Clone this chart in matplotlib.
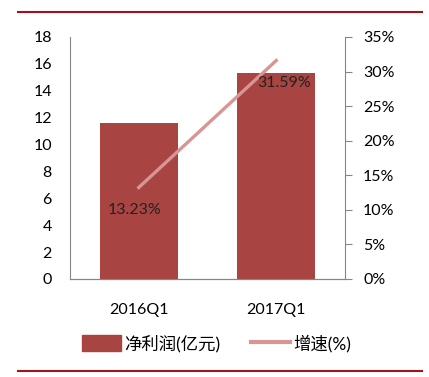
import matplotlib
matplotlib.use("Agg")
import matplotlib.pyplot as plt
from matplotlib.lines import Line2D
from matplotlib.ticker import FuncFormatter

plt.rcParams['font.family'] = ['Lato', 'Noto Sans CJK SC', 'DejaVu Sans']

# データ
categories = ["2016Q1", "2017Q1"]
profit = [11.6, 15.3]          # 净利润(亿元)
growth = [13.23, 31.59]        # 增速(%)
growth_labels = ["13.23%", "31.59%"]

bar_color = "#A84442"
line_color = "#D99594"
grid_color = "#868686"
fs = 11.5

fig = plt.figure(figsize=(4.29, 3.77), dpi=100)
ax = fig.add_axes([0.1632, 0.260, 0.641, 0.642])
ax2 = ax.twinx()

x = range(len(categories))
ax.bar(x, profit, width=0.565, color=bar_color, zorder=2)
ax.set_xlim(-0.5, 1.5)
ax.set_ylim(0, 18)
ax.set_yticks(range(0, 19, 2))
ax.set_xticks(list(x))
ax.set_xticklabels(categories, fontsize=fs)
ax.tick_params(axis="x", length=0, pad=17)
ax.tick_params(axis="y", length=0, pad=13, labelsize=fs)

ax2.plot(x, growth, color=line_color, linewidth=2.4, zorder=3)
ax2.set_ylim(0, 35)
ax2.set_yticks(range(0, 36, 5))
ax2.yaxis.set_major_formatter(FuncFormatter(lambda v, p: f"{int(v)}%"))
ax2.tick_params(axis="y", length=5, color=grid_color, labelsize=fs, pad=8)

# データラベル
ax2.annotate(growth_labels[0], (0, growth[0]), xytext=(-3, -16), textcoords="offset points",
             ha="center", va="center", fontsize=fs, color="#222222")
ax2.annotate(growth_labels[1], (1, growth[1]), xytext=(6, -16), textcoords="offset points",
             ha="center", va="center", fontsize=fs, color="#222222")

for a in (ax, ax2):
    a.spines["top"].set_visible(False)
    a.spines["left"].set_color(grid_color)
    a.spines["right"].set_color(grid_color)
    a.spines["bottom"].set_color(grid_color)
ax2.spines["left"].set_visible(False)
ax.spines["right"].set_visible(False)

# 凡例
handles = [plt.Rectangle((0, 0), 1, 1, color=bar_color),
           Line2D([0], [0], color=line_color, linewidth=3)]
fig.legend(handles, ["净利润(亿元)", "增速(%)"], loc="center", bbox_to_anchor=(0.505, 0.09),
           ncol=2, frameon=False, fontsize=12.5, handlelength=2.2, handleheight=1.0,
           columnspacing=1.8, handletextpad=0.2)

# 上下の赤線
fig.add_artist(Line2D([0.042, 0.984], [0.968, 0.968], color="#A0141E", linewidth=1.5))
fig.add_artist(Line2D([0.042, 0.984], [0.016, 0.016], color="#A0141E", linewidth=1.5))

fig.savefig("out.png", dpi=100)
